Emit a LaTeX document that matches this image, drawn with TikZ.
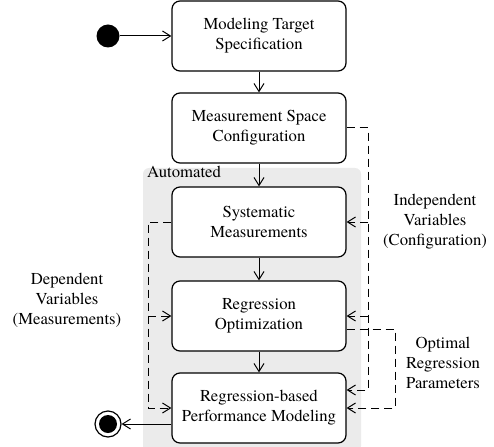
\documentclass[tikz,border=0pt]{standalone}
\usepackage{fontspec}
\newfontfamily\tnr{TeX Gyre Termes}
\usetikzlibrary{arrows.meta}
\begin{document}
\begin{tikzpicture}[x=1pt,y=-1pt,
  box/.style={draw, fill=white, rounded corners=8pt, line width=1.2pt, minimum width=174pt, minimum height=70pt, align=center, font=\tnr\fontsize{16.7}{20}\selectfont, inner sep=0pt},
  lbl/.style={align=center, font=\tnr\fontsize{16.7}{20}\selectfont},
  arr/.style={-{Straight Barb[length=8pt,width=10pt]}, line width=1pt},
  dsh/.style={dash pattern=on 8pt off 5pt, line width=1pt}]
\useasboundingbox (0,0) rectangle (494,446);
\fill[black!8, rounded corners=6pt] (143,168) rectangle (361,452);
\node[anchor=base west, font=\tnr\fontsize{16.7}{20}\selectfont, inner sep=0pt] (auto) at (147,178) {Automated};

\node[box] (b1) at (259,36) {Modeling Target\\Specification};
\node[box] (b2) at (259,128) {Measurement Space\\Configuration};
\node[box] (b3) at (259,222) {Systematic\\Measurements};
\node[box] (b4) at (259,316) {Regression\\Optimization};
\node[box] (b5) at (259,408) {Regression-based\\Performance Modeling};

\node[circle, fill, minimum size=23pt, inner sep=0pt] (s) at (108,36) {};
\node[circle, draw, line width=1.2pt, minimum size=26pt, inner sep=0pt] (e) at (108,424) {};
\node[circle, fill, minimum size=18pt, inner sep=0pt] (ei) at (108,424) {};

\draw[arr] (s) -- (b1);
\draw[arr] (b1) -- (b2);
\draw[arr] (b2) -- (b3);
\draw[arr] (b3) -- (b4);
\draw[arr] (b4) -- (b5);
\draw[arr] ([yshift=-16pt]b5.west) -- (e);

% left dashed
\coordinate (lc) at (148,408);
\coordinate (lb) at (148,316);
\draw[arr, dsh] (b3.west) -| (lc) -- (b5.west);
\draw[arr, dsh] (lb) -- (b4.west);

% right dashed
\coordinate (rc) at (368,390);
\coordinate (r3) at (368,222);
\coordinate (r4) at (368,316);
\draw[arr, dsh] (b2.east) -| (rc) -- ([yshift=18pt]b5.east);
\draw[arr, dsh] (r3) -- (b3.east);
\draw[arr, dsh] (r4) -- (b4.east);

% optimal
\coordinate (oc) at (395,408);
\draw[arr, dsh] ([yshift=-13pt]b4.east) -| (oc) -- (b5.east);

\node[lbl] (li) at (435,222) {Independent\\Variables\\(Configuration)};
\node[lbl] (ld) at (67,300) {Dependent\\Variables\\(Measurements)};
\node[lbl] (lo) at (443,363) {Optimal\\Regression\\Parameters};
\end{tikzpicture}
\end{document}
